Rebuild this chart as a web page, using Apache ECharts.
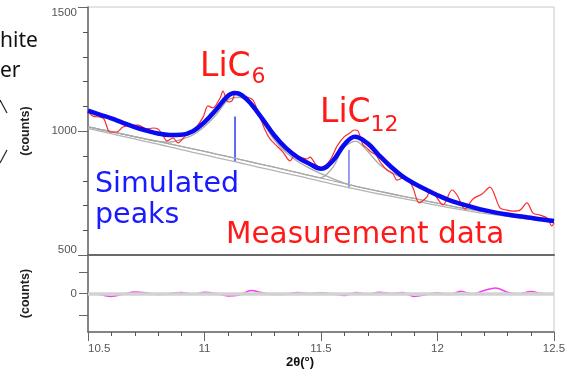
<!DOCTYPE html>
<html>
<head>
<meta charset="utf-8">
<script src="https://cdn.jsdelivr.net/npm/echarts@6.0.0/dist/echarts.min.js"></script>
<style>
  html, body { margin: 0; padding: 0; background: #fff; }
  #chart { width: 574px; height: 371px; }
</style>
</head>
<body>
<div id="chart"></div>
<script>
// 2theta grid shared by the grey curves and the residual
const theta = [10.5, 10.55, 10.6, 10.65, 10.7, 10.75, 10.8, 10.85, 10.9, 10.95,
  11.0, 11.05, 11.1, 11.15, 11.2, 11.25, 11.3, 11.35, 11.4, 11.45,
  11.5, 11.55, 11.6, 11.65, 11.7, 11.75, 11.8, 11.85, 11.9, 11.95,
  12.0, 12.05, 12.1, 12.15, 12.2, 12.25, 12.3, 12.35, 12.4, 12.45, 12.5]

// simulated total (thick blue), a little denser round the two peaks
const fitTheta = [10.5, 10.55, 10.6, 10.65, 10.7, 10.75, 10.8, 10.85, 10.9, 10.95,
  11.0, 11.05, 11.1, 11.13, 11.16, 11.2, 11.25, 11.3, 11.35, 11.4, 11.45,
  11.5, 11.55, 11.6, 11.645, 11.7, 11.75, 11.8, 11.85, 11.9, 11.95,
  12.0, 12.05, 12.1, 12.15, 12.2, 12.25, 12.3, 12.35, 12.4, 12.45, 12.5]
const fitCounts = [1082, 1066, 1051, 1033, 1016, 1002, 990, 984, 985, 999,
  1036, 1086, 1141, 1153, 1145, 1109, 1047, 982, 931, 894, 868,
  848, 879, 945, 977, 950, 901, 856, 817, 788, 764,
  741, 721, 706, 693, 681, 671, 663, 656, 650, 643, 637]

// background lines (grey)
const bgLower = [1011, 1000, 989, 978, 968, 957, 947, 936, 925, 914,
  904, 893, 883, 872, 861, 850, 840, 829, 819, 808,
  797, 786, 776, 766, 756, 746, 737, 728, 719, 709,
  700, 691, 683, 675, 668, 662, 656, 650, 644, 639, 634]
const bgUpper = [1017, 1007, 997, 987, 977, 967, 958, 948, 938, 928,
  918, 907, 897, 886, 875, 864, 854, 843, 832, 821,
  810, 799, 788, 777, 767, 757, 747, 737, 728, 718,
  709, 699, 690, 682, 675, 668, 661, 654, 647, 641, 636]

// single-phase curves (grey)
const lic6Curve = [1017, 1007, 997, 987, 977, 967, 958, 955, 966, 984,
  1018, 1065, 1124, 1136, 1105, 1035, 963, 913, 877, 850,
  828, 808, 790, 777, 767, 757, 747, 737, 728, 718,
  709, 699, 690, 682, 675, 668, 661, 654, 647, 641, 636]
const lic12Curve = [1017, 1007, 997, 987, 977, 967, 958, 948, 938, 928,
  918, 907, 897, 886, 875, 864, 854, 843, 832, 821,
  812, 852, 935, 959, 918, 866, 834, 810, 784, 760,
  737, 717, 702, 689, 677, 667, 659, 652, 646, 640, 635]

// peak position sticks
const stickTheta = [11.131, 11.62]
const stickLow = [876, 769]
const stickHigh = [1058, 923]
const stickColors = ['#2b3cf0', '#7a7af0']

// measurement data (red)
const measTheta = [10.5, 10.521, 10.552, 10.569, 10.594, 10.624, 10.65, 10.693, 10.715, 10.753,
  10.779, 10.8, 10.818, 10.839, 10.865, 10.886, 10.921, 10.942, 10.968, 10.994,
  11.015, 11.036, 11.067, 11.079, 11.101, 11.118, 11.135, 11.152, 11.182, 11.208,
  11.238, 11.26, 11.281, 11.311, 11.337, 11.367, 11.388, 11.41, 11.44, 11.453,
  11.479, 11.504, 11.539, 11.569, 11.599, 11.624, 11.642, 11.659, 11.68, 11.697,
  11.715, 11.736, 11.757, 11.783, 11.809, 11.826, 11.852, 11.869, 11.895, 11.921,
  11.955, 11.968, 11.989, 12.024, 12.062, 12.084, 12.118, 12.152, 12.191, 12.225,
  12.268, 12.298, 12.324, 12.354, 12.384, 12.41, 12.44, 12.47, 12.491, 12.5]
const measCounts = [1077, 1060, 1056, 1048, 996, 996, 1016, 1024, 1024, 1008,
  1012, 1008, 988, 960, 972, 952, 984, 996, 1020, 1056,
  1101, 1093, 1133, 1161, 1117, 1121, 1157, 1145, 1137, 1125,
  1056, 1004, 968, 939, 915, 879, 903, 895, 887, 895,
  863, 851, 883, 939, 976, 992, 1004, 1000, 944, 931,
  915, 903, 871, 843, 827, 802, 810, 810, 770, 710,
  734, 762, 742, 702, 762, 742, 685, 726, 746, 774,
  690, 681, 677, 681, 710, 669, 661, 649, 617, 629]

// difference plot (magenta)
const residCounts = [0, -5, -14, -3, 7, 3, -5, 0, 5, -3,
  6, 0, -12, -7, 14, 3, -5, -3, 5, 0,
  3, -2, -9, 5, -3, 6, 0, 5, -14, -6,
  3, -5, 11, -3, 14, 26, 6, -2, 9, 0, -3]

// tick positions
const thetaLabels = [10.5, 11, 11.5, 12, 12.5]
const thetaMinor = [10.6, 10.7, 10.8, 10.9, 11.1, 11.2, 11.3, 11.4, 11.6, 11.7, 11.8, 11.9,
  12.1, 12.2, 12.3, 12.4]
const countsMinor = [600, 700, 800, 900, 1100, 1200, 1300, 1400]
const diffTicks = [-100, 0, 100]

const pairs = (xs, ys) => xs.map((x, i) => [x, ys[i]])

const AXIS = '#666'
const FONT = '"Liberation Sans", Arial, sans-serif'
const LABEL = { color: '#555', fontSize: 11.5, fontFamily: FONT }
const NAME = { color: '#222', fontSize: 12.5, fontWeight: 'bold', fontFamily: FONT }

const grayLine = (name, data, color, width) => ({
  name, type: 'line', xAxisIndex: 0, yAxisIndex: 0, data: pairs(theta, data),
  symbol: 'none', smooth: 0.3, silent: true,
  lineStyle: { color, width }
})

// short minor ticks drawn outside the plot, placed through the axis scale
const minorTicks = (xi, yi, data, dx, dy) => ({
  type: 'custom', xAxisIndex: xi, yAxisIndex: yi, silent: true, clip: false, z: 5,
  data, encode: { x: 0, y: 1 },
  renderItem: (params, api) => {
    const p = api.coord([api.value(0), api.value(1)])
    // snap to the pixel grid so a 1px tick stays crisp
    const x = dx ? Math.round(p[0]) : Math.round(p[0]) + 0.5
    const y = dy ? Math.round(p[1]) : Math.round(p[1]) + 0.5
    return {
      type: 'line',
      shape: { x1: x, y1: y, x2: x + dx, y2: y + dy },
      style: { stroke: '#555', lineWidth: 1 }
    }
  }
})

const chart = echarts.init(document.getElementById('chart'), null, { renderer: 'canvas' })

chart.setOption({
  animation: false,
  textStyle: { fontFamily: FONT },
  grid: [
    { left: 88, right: 20, top: 7, height: 248, show: true, borderColor: '#c8c8c8', borderWidth: 1 },
    { left: 88, right: 20, top: 255, height: 77, show: true, borderColor: '#c8c8c8', borderWidth: 1 }
  ],
  xAxis: [
    {
      gridIndex: 0, type: 'value', min: 10.5, max: 12.5, position: 'bottom',
      axisLine: { onZero: false, lineStyle: { color: '#6a6a6a', width: 2 } },
      axisTick: { show: false }, axisLabel: { show: false }, splitLine: { show: false }
    },
    {
      gridIndex: 1, type: 'value', min: 10.5, max: 12.5, interval: 0.5, position: 'bottom',
      axisLine: { onZero: false, lineStyle: { color: AXIS, width: 1.5 } },
      axisTick: { length: 9, customValues: thetaLabels, lineStyle: { color: AXIS } },
      axisLabel: { ...LABEL, margin: 11, customValues: thetaLabels, alignMinLabel: 'left' },
      splitLine: { show: false },
      name: '2θ(°)', nameLocation: 'middle', nameGap: 22,
      nameTextStyle: { ...NAME, color: '#111', fontSize: 13, padding: [0, 42, 0, 0] }
    }
  ],
  yAxis: [
    {
      gridIndex: 0, type: 'value', min: 500, max: 1500, interval: 500, position: 'left',
      axisLine: { show: true, onZero: false, lineStyle: { color: AXIS, width: 1.5 } },
      axisTick: { show: true, length: 10, lineStyle: { color: AXIS } },
      axisLabel: {
        ...LABEL, margin: 11,
        formatter: v => v === 1500 ? '{lo|1500}' : v === 500 ? '{hi|500}' : String(v),
        rich: {
          lo: { ...LABEL, padding: [12, 0, 0, 0] },
          hi: { ...LABEL, padding: [0, 0, 10, 0] }
        }
      },
      splitLine: { show: false },
      name: '(counts)', nameLocation: 'middle', nameGap: 56, nameTextStyle: NAME
    },
    {
      gridIndex: 1, type: 'value', min: -180, max: 180, position: 'left',
      axisLine: { show: true, onZero: false, lineStyle: { color: AXIS, width: 1.5 } },
      axisTick: { show: true, length: 9, customValues: diffTicks, lineStyle: { color: AXIS } },
      axisLabel: { ...LABEL, margin: 11, customValues: [0] },
      splitLine: { show: false },
      name: '(counts)', nameLocation: 'middle', nameGap: 56, nameTextStyle: NAME
    }
  ],
  series: [
    grayLine('background', bgLower, '#b4b4b4', 1.3),
    grayLine('background 2', bgUpper, '#a0a0a0', 1),
    grayLine('LiC6', lic6Curve, '#a8a8a8', 1.3),
    grayLine('LiC12', lic12Curve, '#a8a8a8', 1.3),
    {
      name: 'sticks', type: 'custom', xAxisIndex: 0, yAxisIndex: 0, silent: true,
      data: stickTheta.map((t, i) => [t, stickLow[i], stickHigh[i]]),
      encode: { x: 0, y: [1, 2] },
      renderItem: (params, api) => {
        const a = api.coord([api.value(0), api.value(1)])
        const b = api.coord([api.value(0), api.value(2)])
        return {
          type: 'line',
          shape: { x1: a[0], y1: a[1], x2: b[0], y2: b[1] },
          style: { stroke: stickColors[params.dataIndex], lineWidth: 1.5 }
        }
      }
    },
    {
      name: 'Measurement data', type: 'line', xAxisIndex: 0, yAxisIndex: 0,
      data: pairs(measTheta, measCounts), symbol: 'none', smooth: 0.3,
      lineStyle: { color: '#ff2a2a', width: 1.2 }
    },
    {
      name: 'Simulated', type: 'line', xAxisIndex: 0, yAxisIndex: 0,
      data: pairs(fitTheta, fitCounts), symbol: 'none', smooth: 0.4,
      lineStyle: { color: '#0a0af0', width: 4.5 }
    },
    {
      // zero reference band under the difference curve
      name: 'zero', type: 'line', xAxisIndex: 1, yAxisIndex: 1, data: [], z: 1,
      markLine: {
        silent: true, symbol: 'none', label: { show: false },
        lineStyle: { color: '#d2d2d2', width: 3.5, type: 'solid' },
        data: [{ yAxis: 0 }]
      }
    },
    {
      name: 'difference', type: 'line', xAxisIndex: 1, yAxisIndex: 1, z: 3,
      data: pairs(theta, residCounts), symbol: 'none', smooth: 0.3,
      lineStyle: { color: '#f040f0', width: 1.5 }
    },
    minorTicks(0, 0, countsMinor.map(v => [10.5, v]), -5, 0),
    minorTicks(1, 1, thetaMinor.map(v => [v, -180]), 0, 4)
  ],
  graphic: [
    { type: 'text', style: { x: 0, y: 41, text: 'hite', font: '21px "Noto Sans"', fill: '#111', verticalAlign: 'middle' } },
    { type: 'text', style: { x: 0, y: 71, text: 'er', font: '21px "Noto Sans"', fill: '#111', verticalAlign: 'middle' } },
    { type: 'line', shape: { x1: 0, y1: 100, x2: 7, y2: 113 }, style: { stroke: '#222', lineWidth: 1.2 } },
    { type: 'line', shape: { x1: 0, y1: 163, x2: 7, y2: 150 }, style: { stroke: '#222', lineWidth: 1.2 } },
    { type: 'text', style: { x: 200, y: 67, text: 'LiC', font: '33px "DejaVu Sans"', fill: '#ff1a1a', verticalAlign: 'middle' } },
    { type: 'text', style: { x: 251.5, y: 77.5, text: '6', font: '22px "DejaVu Sans"', fill: '#ff1a1a', verticalAlign: 'middle' } },
    { type: 'text', style: { x: 320, y: 113.5, text: 'LiC', font: '33px "DejaVu Sans"', fill: '#ff1a1a', verticalAlign: 'middle' } },
    { type: 'text', style: { x: 370.5, y: 125.5, text: '12', font: '22px "DejaVu Sans"', fill: '#ff1a1a', verticalAlign: 'middle' } },
    { type: 'text', style: { x: 95, y: 184.5, text: 'Simulated', font: '28.5px "DejaVu Sans"', fill: '#1a1aff', verticalAlign: 'middle' } },
    { type: 'text', style: { x: 95, y: 216, text: 'peaks', font: '28.5px "DejaVu Sans"', fill: '#1a1aff', verticalAlign: 'middle' } },
    { type: 'text', style: { x: 226, y: 235.5, text: 'Measurement data', font: '29.5px "DejaVu Sans"', fill: '#ff1a1a', verticalAlign: 'middle' } }
  ]
})
</script>
</body>
</html>
